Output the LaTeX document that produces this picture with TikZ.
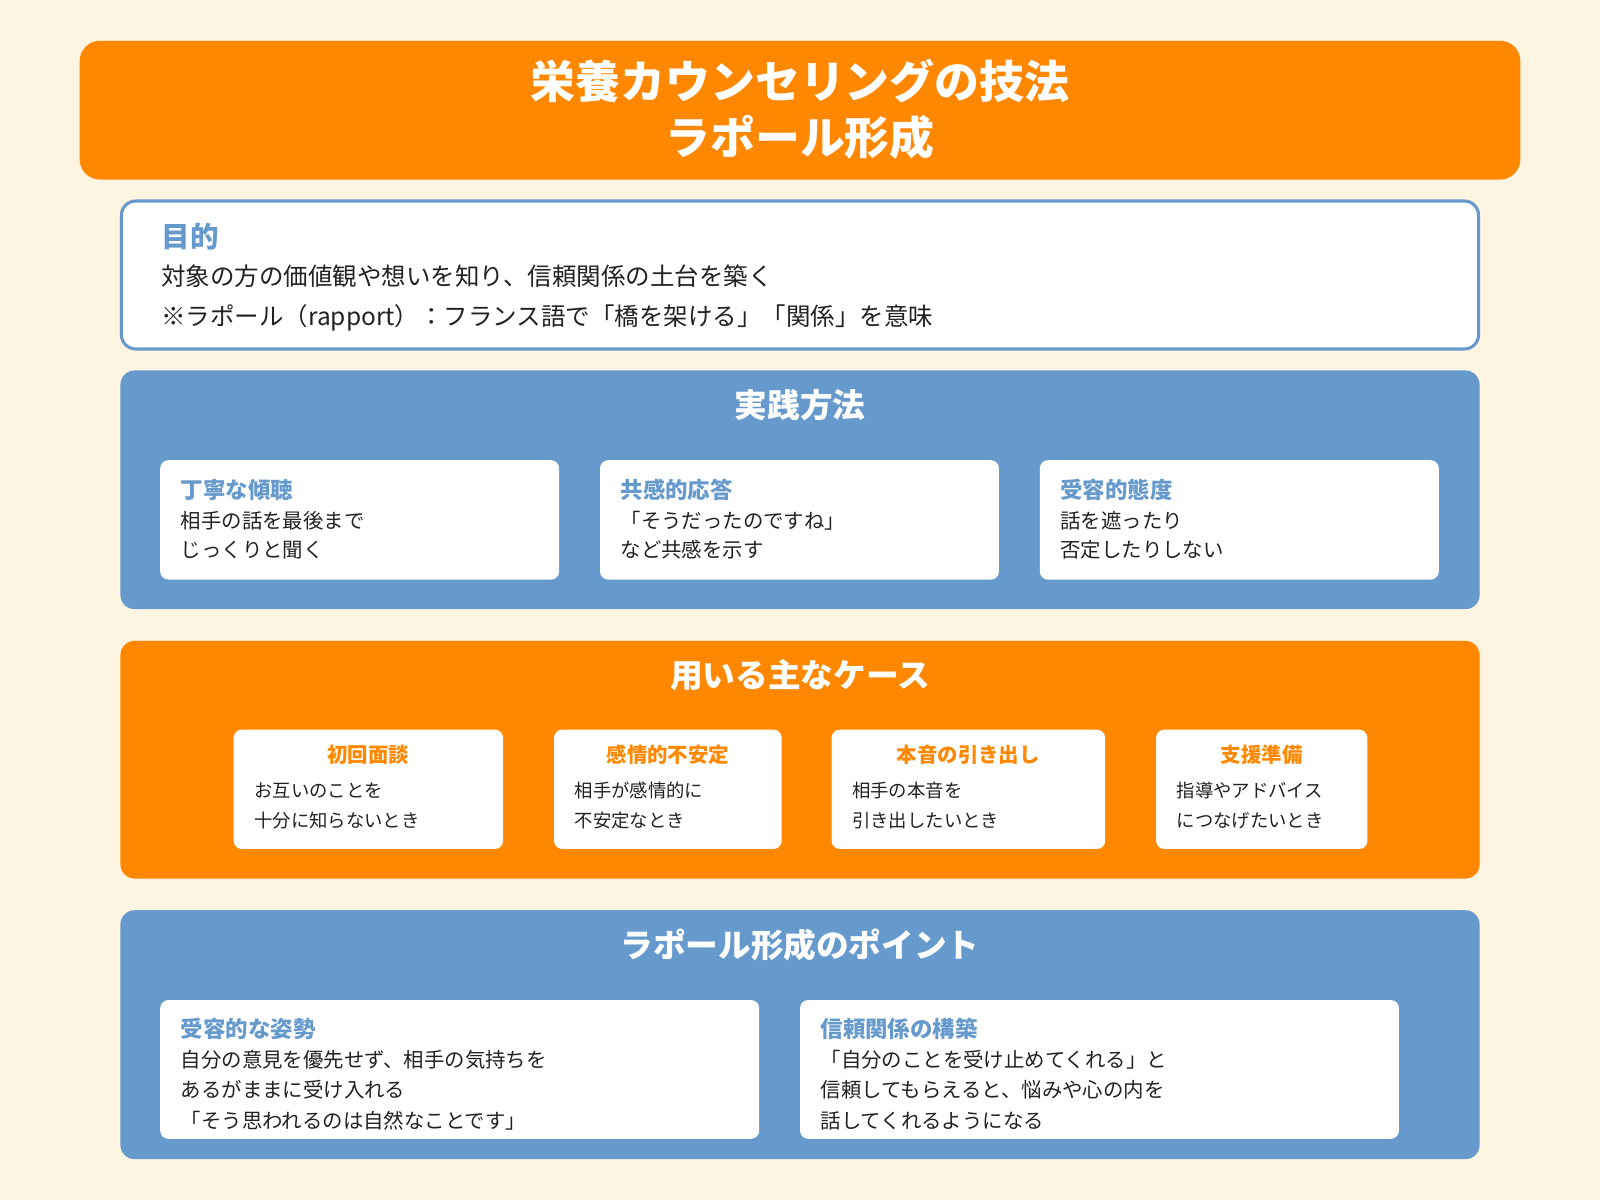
\documentclass[tikz,border=0pt]{standalone}
\usepackage{fontspec}
\setmainfont{Noto Sans CJK JP}
\newfontfamily\jpb[BoldFont=*]{Noto Sans CJK JP Bold}
\definecolor{bg}{HTML}{FEF4E2}
\definecolor{org}{HTML}{FF8800}
\definecolor{blu}{HTML}{6699CC}
\definecolor{txt}{HTML}{222222}
\newcommand{\fs}[1]{\fontsize{#1}{#1}\selectfont}
\tikzset{
 sec/.style={rounded corners=14pt,draw=none},
 card/.style={fill=white,rounded corners=8pt,draw=none},
 lbl/.style={anchor=west,inner sep=0pt,text=txt},
 ttl/.style={inner sep=0pt,text=white,font=\bfseries\fs{32}},
}
\begin{document}
\begin{tikzpicture}[x=1pt,y=-1pt]
\useasboundingbox[fill=bg] (0,0) rectangle (1568,1176);
% title
\fill[org,rounded corners=20pt] (78,40) rectangle (1490,176);
\node[inner sep=0pt,text=white,font=\bfseries\fs{44}] (t1) at (784,79) {栄養カウンセリングの技法};
\node[inner sep=0pt,text=white,font=\bfseries\fs{44}] (t2) at (784,135) {ラポール形成};
% purpose
\draw[blu,line width=3pt,fill=white,rounded corners=14pt] (119,197) rectangle (1449,342);
\node[lbl,text=blu,font=\bfseries\fs{28}] (p0) at (158,232) {目的};
\node[lbl,font=\fs{24}] (p1) at (158,271) {対象の方の価値観や想いを知り、信頼関係の土台を築く};
\node[lbl,font=\fs{24}] (p2) at (158,311) {※ラポール（rapport）：フランス語で「橋を架ける」「関係」を意味};
% section 1
\fill[blu,sec] (118,363) rectangle (1450,597);
\node[ttl] (s1) at (784,397) {実践方法};
\foreach \x/\h/\a/\b in {157/丁寧な傾聴/相手の話を最後まで/じっくりと聞く,588/共感的応答/「そうだったのですね」/など共感を示す,1019/受容的態度/話を遮ったり/否定したりしない}{
 \fill[card] (\x,451) rectangle ++(391,117);
 \node[lbl,text=blu,font=\bfseries\fs{22}] at (\x+20,480) {\h};
 \node[lbl,font=\fs{20}] at (\x+20,510) {\a};
 \node[lbl,font=\fs{20}] at (\x+20,539) {\b};
}
% section 2
\fill[org,sec] (118,628) rectangle (1450,861);
\node[ttl] (s2) at (784,662) {用いる主なケース};
\foreach \x/\w/\h/\a/\b in {229/264/初回面談/お互いのことを/十分に知らないとき,543/223/感情的不安定/相手が感情的に/不安定なとき,815/268/本音の引き出し/相手の本音を/引き出したいとき,1133/207/支援準備/指導やアドバイス/につなげたいとき}{
 \fill[card] (\x,715) rectangle ++(\w,117);
 \node[inner sep=0pt,text=org,font=\bfseries\fs{20}] at (\x+\w/2,740) {\h};
 \node[lbl,font=\fs{18}] at (\x+20,775) {\a};
 \node[lbl,font=\fs{18}] at (\x+20,804) {\b};
}
% section 3
\fill[blu,sec] (118,892) rectangle (1450,1136);
\node[ttl] (s3) at (784,926) {ラポール形成のポイント};
\foreach \x/\h/\a/\b/\c in {157/受容的な姿勢/自分の意見を優先せず、相手の気持ちを/あるがままに受け入れる/「そう思われるのは自然なことです」,784/信頼関係の構築/「自分のことを受け止めてくれる」と/信頼してもらえると、悩みや心の内を/話してくれるようになる}{
 \fill[card] (\x,980) rectangle ++(587,136);
 \node[lbl,text=blu,font=\bfseries\fs{22}] at (\x+20,1008) {\h};
 \node[lbl,font=\fs{20}] at (\x+20,1039) {\a};
 \node[lbl,font=\fs{20}] at (\x+20,1068) {\b};
 \node[lbl,font=\fs{20}] at (\x+20,1098) {\c};
}
\end{tikzpicture}
\end{document}
